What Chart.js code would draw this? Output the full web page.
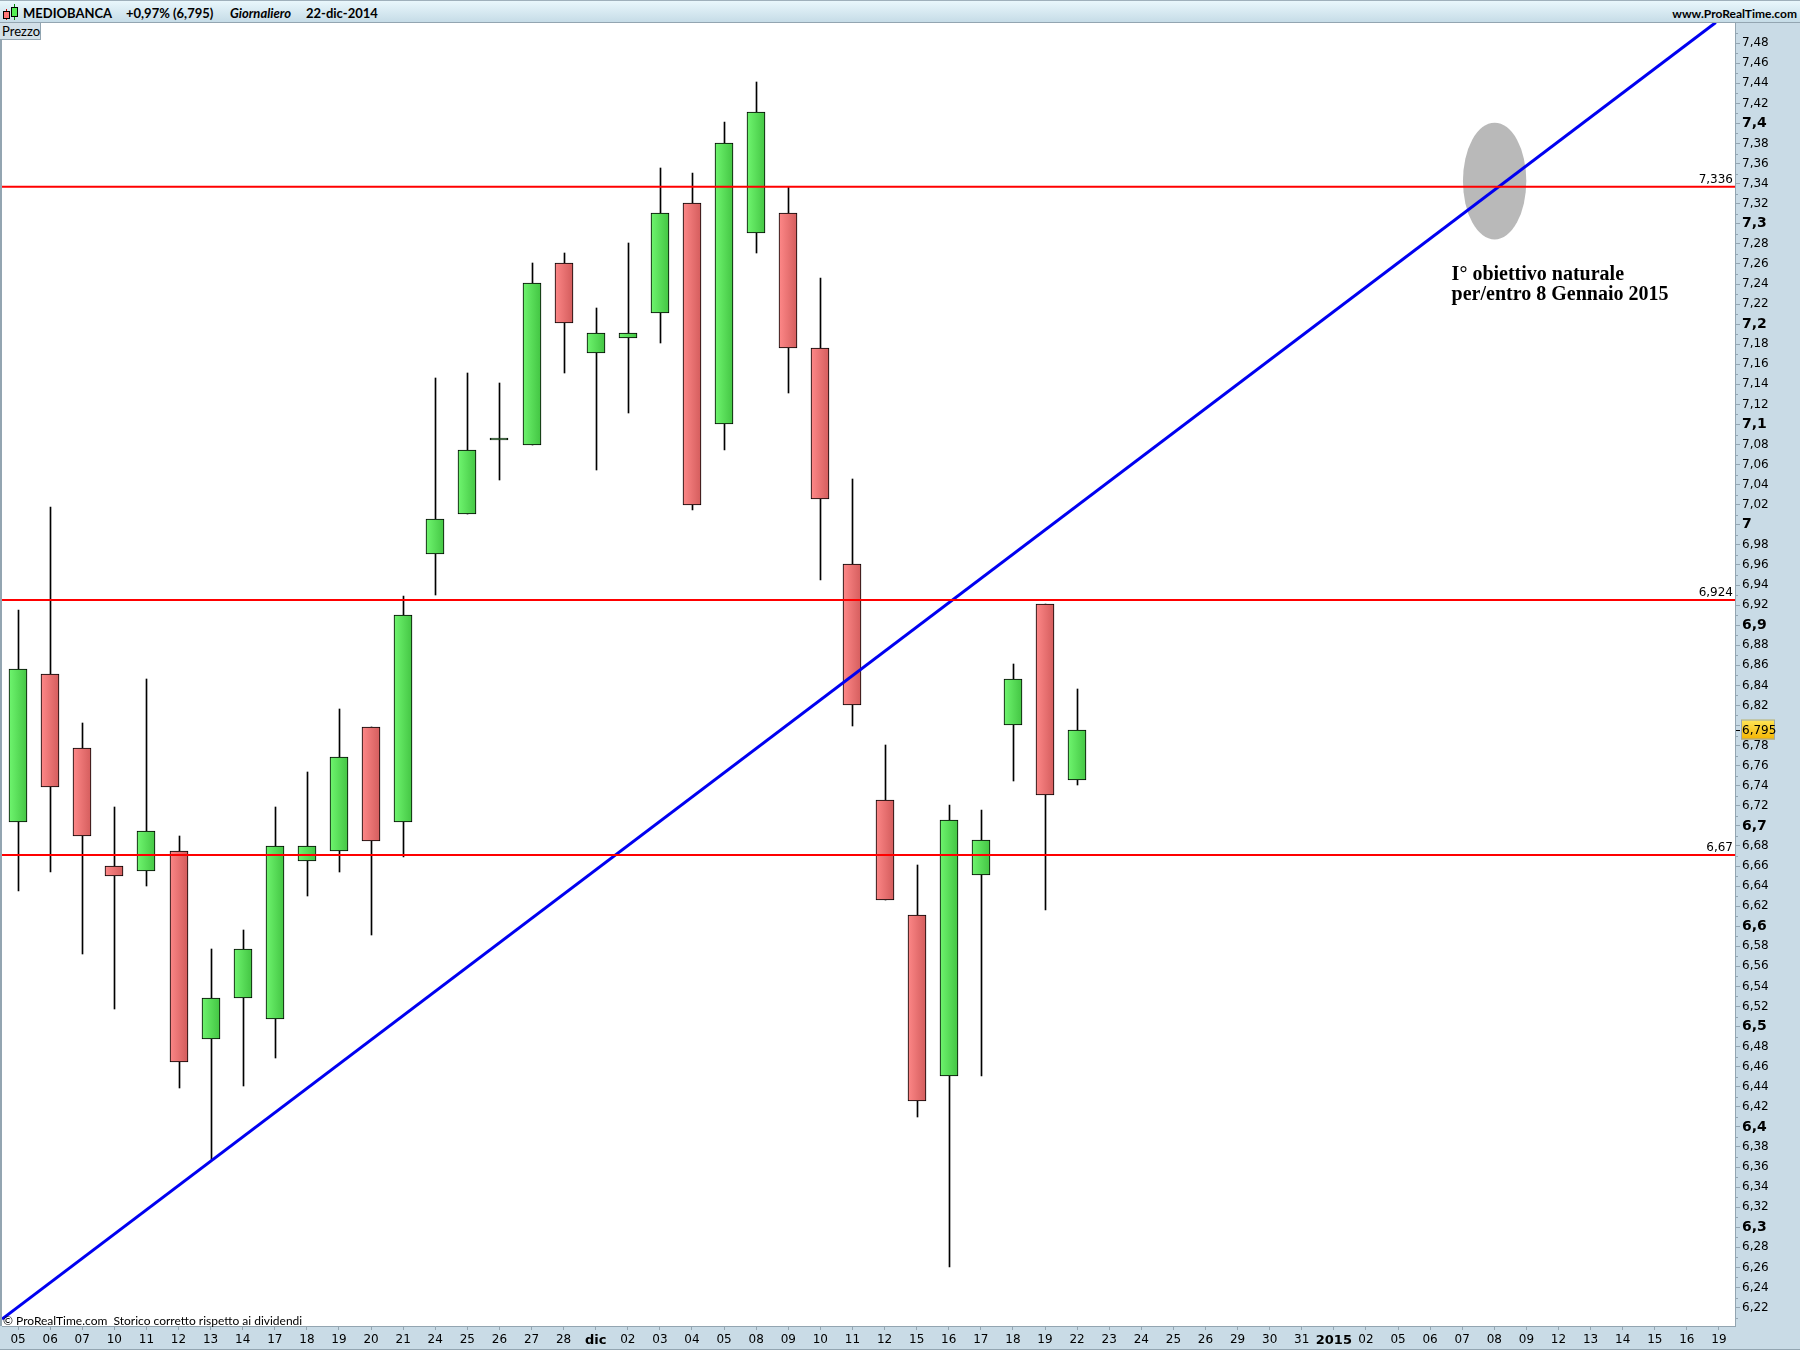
<!DOCTYPE html>
<html>
<head>
<meta charset="utf-8">
<title>MEDIOBANCA</title>
<script src="https://cdn.jsdelivr.net/npm/chart.js@4"></script>
<style>
    html, body { margin: 0; padding: 0; background: #c9dbe6; }
    #wrap { position: relative; width: 1800px; height: 1350px; overflow: hidden; }
    canvas { position: absolute; left: 0; top: 0; }
    .head { position: absolute; left: 0; top: 0; width: 1800px; height: 23px; box-sizing: border-box;
        background: linear-gradient(#e9f7fc, #c6dce7); border-top: 1px solid #9fb0bb; border-bottom: 1px solid #93a5b1; }
    .t { position: absolute; font-family: Lato, sans-serif; font-size: 13px; color: #000; white-space: nowrap; }
    .b { font-weight: bold; }
    #prezzo { left: 0; top: 23px; width: 41px; height: 17px; line-height: 17px; padding-left: 2px; box-sizing: border-box;
        background: #d3e0e8; border-right: 1px solid #93a5b1; border-bottom: 1px solid #93a5b1; }
    .ic { position: absolute; border: 1px solid #000; width: 5px; }
    .wk { position: absolute; width: 1px; }
</style>
</head>
<body>
<div id="wrap">
    <canvas id="myChart" width="1800" height="1350"></canvas>
    <div class="head"></div>
    <div class="wk" style="left:6px;top:9px;height:11px;background:#c00"></div>
    <div class="ic" style="left:3px;top:11px;height:6px;background:#f77"></div>
    <div class="wk" style="left:14px;top:4px;height:16px;background:#080"></div>
    <div class="ic" style="left:11px;top:7px;height:8px;background:#5e5"></div>
    <div class="t b" style="left:23px;top:5px">MEDIOBANCA</div>
    <div class="t b" style="left:126px;top:5px">+0,97% (6,795)</div>
    <div class="t b" style="left:230px;top:5px;font-style:italic">Giornaliero</div>
    <div class="t b" style="left:306px;top:5px">22-dic-2014</div>
    <div class="t b" style="right:3px;top:6px;font-size:12px">www.ProRealTime.com</div>
    <div class="t" id="prezzo">Prezzo</div>
    <div class="t" style="left:3px;top:1313px;font-size:12px">© ProRealTime.com&nbsp; Storico corretto rispetto ai dividendi</div>
</div>

<script>
'use strict';

let categories = ['05', '06', '07', '10', '11', '12', '13', '14', '17', '18', '19', '20', '21', '24', '25', '26', '27', '28',
    'dic', '02', '03', '04', '05', '08', '09', '10', '11', '12', '15', '16', '17', '18', '19', '22', '23', '24', '25', '26',
    '29', '30', '31', '2015', '02', '05', '06', '07', '08', '09', '12', '13', '14', '15', '16', '19'];

let opens = [6.703, 6.85, 6.777, 6.659, 6.654, 6.674, 6.487, 6.527, 6.507, 6.664, 6.674, 6.798, 6.703, 6.9696, 7.0095, 7.084, 7.079,
    7.26, 7.17, 7.185, 7.21, 7.32, 7.099, 7.29, 7.31, 7.175, 6.96, 6.7245, 6.61, 6.45, 6.65, 6.8, 6.92, 6.745];
let closes = [6.855, 6.7375, 6.689, 6.649, 6.694, 6.4634, 6.527, 6.576, 6.679, 6.679, 6.768, 6.684, 6.909, 7.0045, 7.074, 7.084, 7.24,
    7.2, 7.19, 7.19, 7.31, 7.019, 7.38, 7.41, 7.175, 7.0245, 6.819, 6.625, 6.4246, 6.705, 6.685, 6.845, 6.73, 6.795];
let highs = [6.914, 7.017, 6.8015, 6.718, 6.845, 6.689, 6.576, 6.595, 6.718, 6.753, 6.8155, 6.798, 6.928, 7.145, 7.15, 7.14, 7.26,
    7.27, 7.215, 7.28, 7.355, 7.35, 7.4, 7.44, 7.336, 7.245, 7.045, 6.78, 6.66, 6.72, 6.715, 6.86, 6.92, 6.835];
let lows = [6.634, 6.653, 6.571, 6.517, 6.639, 6.438, 6.366, 6.4395, 6.468, 6.629, 6.653, 6.59, 6.668, 6.929, 7.0095, 7.044, 7.079,
    7.15, 7.054, 7.11, 7.18, 7.014, 7.074, 7.27, 7.13, 6.944, 6.799, 6.625, 6.409, 6.259, 6.45, 6.744, 6.615, 6.74];

let levels = [7.336, 6.924, 6.67];
let levelLabels = ['7,336', '6,924', '6,67'];
let trendX = [-0.5, 52.9];
let trendY = [6.2075, 7.4996];
let lastPrice = 6.795;
let lastPriceLabel = '6,795';
let noteLines = ['I° obiettivo naturale', 'per/entro 8 Gennaio 2015'];
let noteX = 44.67;
let noteY = [7.248, 7.228];
let ellipseX = 46.01;
let ellipseY = 7.3416;
let ellipseRx = 0.987;
let ellipseRy = 0.0582;

const yMin = 6.2006;
const yMax = 7.4991;
const tickNudge = 0.001; // axis marks sit about a pixel under the price scale
const axisColor = '#93a5b1';

function bodyFill(context) {
    let chart = context.chart;
    let i = context.dataIndex;
    let up = closes[i] >= opens[i];
    if (!chart.chartArea || i === undefined) {
        return up ? '#55dd55' : '#ee7373';
    }
    let x = chart.scales.x.getPixelForValue(i);
    let g = chart.ctx.createLinearGradient(x - 8, 0, x + 8, 0);
    g.addColorStop(0, up ? '#6cf26c' : '#fb8585');
    g.addColorStop(1, up ? '#46c846' : '#d65f5f');
    return g;
}

function priceLabel(v) {
    let n = Math.round((v + tickNudge) * 100);
    if (n === 680) return '';
    return (n / 100).toString().replace('.', ',');
}

// keeps candles on whole pixels so the outlines stay crisp
const snap = {
    id: 'snap',
    afterDatasetsUpdate(chart) {
        chart.getDatasetMeta(0).data.forEach(function (bar) {
            bar.x = Math.round(bar.x) + 0.5;
            bar.y = Math.round(bar.y);
            bar.base = Math.round(bar.base);
        });
        chart.getDatasetMeta(1).data.forEach(function (bar) {
            bar.x = Math.round(bar.x);
            bar.y = Math.round(bar.y);
            bar.base = Math.round(bar.base);
            if (bar.y === bar.base) bar.y -= 2;
        });
    }
};

// panel, ellipse and the bits Chart.js has no option for
const extras = {
    id: 'extras',
    beforeDatasetsDraw(chart) {
        let ctx = chart.ctx;
        let a = chart.chartArea;
        let sx = chart.scales.xLine;
        let sy = chart.scales.y;
        ctx.save();
        ctx.fillStyle = '#ffffff';
        ctx.fillRect(a.left, a.top, a.right - a.left, a.bottom - a.top);
        ctx.fillStyle = '#b9b9b9';
        ctx.beginPath();
        ctx.ellipse(sx.getPixelForValue(ellipseX), sy.getPixelForValue(ellipseY),
            sx.getPixelForValue(ellipseX + ellipseRx) - sx.getPixelForValue(ellipseX),
            sy.getPixelForValue(ellipseY) - sy.getPixelForValue(ellipseY + ellipseRy), 0, 0, Math.PI * 2);
        ctx.fill();
        ctx.restore();
    },
    afterDraw(chart) {
        let ctx = chart.ctx;
        let a = chart.chartArea;
        let sx = chart.scales.xLine;
        let sy = chart.scales.y;
        ctx.save();

        // short ticks on the odd cents
        ctx.strokeStyle = axisColor;
        for (let n = 621; n < 750; n += 2) {
            let py = Math.round(sy.getPixelForValue(n / 100 - tickNudge)) + 0.5;
            ctx.beginPath();
            ctx.moveTo(a.right, py);
            ctx.lineTo(a.right + 3, py);
            ctx.stroke();
        }

        ctx.fillStyle = axisColor;
        ctx.fillRect(0, 22, 2, a.bottom - 22);
        ctx.fillRect(0, 1349, 1800, 1);

        // level values above the red lines
        ctx.fillStyle = '#000000';
        ctx.font = '12px "DejaVu Sans"';
        ctx.textAlign = 'right';
        ctx.textBaseline = 'bottom';
        levels.forEach(function (v, i) {
            ctx.fillText(levelLabels[i], a.right - 2, sy.getPixelForValue(v) - 1);
        });

        // last price tag
        let ty = sy.getPixelForValue(lastPrice);
        let g = ctx.createLinearGradient(0, ty - 10, 0, ty + 10);
        g.addColorStop(0, '#ffe65a');
        g.addColorStop(1, '#f4b400');
        ctx.fillStyle = g;
        ctx.fillRect(a.right + 6, ty - 10, 34, 20);
        ctx.strokeStyle = '#9aa7af';
        ctx.strokeRect(a.right + 6.5, ty - 9.5, 33, 19);
        ctx.strokeStyle = '#000000';
        ctx.beginPath();
        ctx.moveTo(a.right + 1, Math.round(ty) + 0.5);
        ctx.lineTo(a.right + 5, Math.round(ty) + 0.5);
        ctx.stroke();
        ctx.fillStyle = '#000000';
        ctx.textAlign = 'left';
        ctx.textBaseline = 'middle';
        ctx.fillText(lastPriceLabel, a.right + 7, ty + 1);

        // note next to the target
        ctx.font = 'bold 20px "Liberation Serif"';
        noteLines.forEach(function (line, i) {
            ctx.fillText(line, sx.getPixelForValue(noteX), sy.getPixelForValue(noteY[i]));
        });
        ctx.restore();
    }
};

let ctx = document.getElementById('myChart').getContext('2d');

let chart = new Chart(ctx, {
    type: 'bar',
    data: {
        labels: categories,
        datasets: [
            {
                label: 'wick',
                data: opens.map((o, i) => [lows[i], highs[i]]),
                backgroundColor: '#000000',
                barThickness: 1,
                order: 5
            },
            {
                label: 'body',
                data: opens.map((o, i) => [o, closes[i]]),
                backgroundColor: bodyFill,
                borderColor: '#000000',
                borderWidth: 1,
                borderSkipped: false,
                barThickness: 18,
                minBarLength: 2,
                order: 4
            },
            {
                type: 'line',
                label: 'trend',
                xAxisID: 'xLine',
                data: trendX.map((x, i) => ({ x: x, y: trendY[i] })),
                borderColor: '#0000f0',
                borderWidth: 3,
                pointRadius: 0,
                order: 3
            },
            ...levels.map((v, i) => ({
                type: 'line',
                label: 'level ' + levelLabels[i],
                xAxisID: 'xLine',
                data: [{ x: -0.5, y: v }, { x: 53.5, y: v }],
                borderColor: '#ff0000',
                borderWidth: 2,
                pointRadius: 0,
                order: 2
            }))
        ]
    },
    options: {
        responsive: false,
        devicePixelRatio: 1,
        animation: false,
        layout: { autoPadding: false, padding: { left: 2, top: 23, right: 0, bottom: 0 } },
        plugins: { legend: { display: false }, tooltip: { enabled: false } },
        datasets: { bar: { grouped: false } },
        scales: {
            x: {
                type: 'category',
                offset: true,
                afterFit(axis) { axis.height = 24; },
                border: { color: axisColor },
                grid: { offset: false, drawOnChartArea: false, tickLength: 4, tickColor: axisColor },
                ticks: {
                    autoSkip: false,
                    maxRotation: 0,
                    padding: 3,
                    color: '#000000',
                    font: function (c) {
                        let name = c.tick && c.tick.label;
                        let big = name === 'dic' || name === '2015';
                        return { family: 'DejaVu Sans', size: big ? 13 : 12, weight: big ? 'bold' : 'normal' };
                    }
                }
            },
            xLine: { type: 'linear', display: false, offset: false, min: -0.5, max: 53.5 },
            y: {
                type: 'linear',
                position: 'right',
                min: yMin,
                max: yMax,
                afterFit(axis) { axis.width = 65; },
                afterBuildTicks(axis) {
                    let list = [];
                    for (let n = 622; n <= 748; n += 2) {
                        list.push({ value: n / 100 - tickNudge, major: n % 10 === 0 });
                    }
                    axis.ticks = list;
                },
                border: { color: axisColor },
                grid: { drawOnChartArea: false, tickLength: 5, tickColor: axisColor },
                ticks: {
                    autoSkip: false,
                    padding: 2,
                    color: '#000000',
                    callback: priceLabel,
                    font: function (c) {
                        let major = c.tick && c.tick.major;
                        return { family: 'DejaVu Sans', size: major ? 14 : 12, weight: major ? 'bold' : 'normal' };
                    }
                }
            }
        }
    },
    plugins: [snap, extras]
});
</script>
</body>
</html>
